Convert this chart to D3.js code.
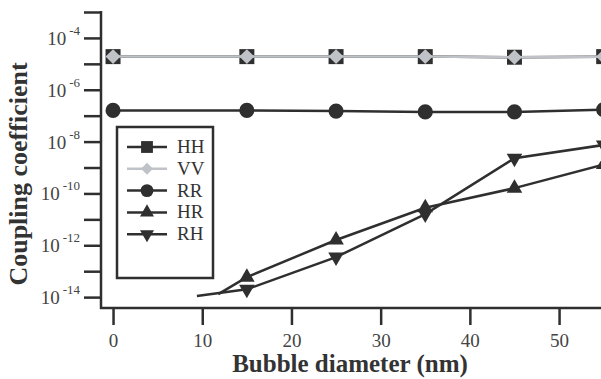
<!DOCTYPE html>
<html>
<head>
<meta charset="utf-8">
<script src="https://cdn.jsdelivr.net/npm/d3@7"></script>
<style>
  body { margin: 0; background: #fff; }
  svg { display: block; font-family: "Liberation Serif", "Times New Roman", serif; }
</style>
</head>
<body>
<svg id="chart" width="601" height="379"></svg>
<script>
// values
const diameters = [0, 15, 25, 35, 45, 55];
const hh = [1.9e-5, 1.9e-5, 1.9e-5, 1.9e-5, 1.8e-5, 1.9e-5];
const vv = [1.9e-5, 1.9e-5, 1.9e-5, 1.9e-5, 1.8e-5, 1.9e-5];
const rr = [1.6e-7, 1.6e-7, 1.5e-7, 1.4e-7, 1.4e-7, 1.7e-7];
const hrX = [11.8, 15, 25, 35, 45, 55];
const hr = [1.3e-14, 5.9e-14, 1.6e-12, 2.8e-11, 1.6e-10, 1.3e-9];
const rhX = [9.4, 15, 25, 35, 45, 55];
const rh = [1.1e-14, 2.0e-14, 3.5e-13, 1.6e-11, 2.3e-9, 7.4e-9];
const xTicks = [0, 10, 20, 30, 40, 50];
const yExponents = [-3, -4, -5, -6, -7, -8, -9, -10, -11, -12, -13, -14];
const legendNames = ["HH", "VV", "RR", "HR", "RH"];

const dark = "#2f2f2f";
const grey = "#bfc3c7";

const svg = d3.select("#chart");

const x = d3.scaleLinear().domain([-1.35, 54.7]).range([101, 601]);
const y = d3.scaleLog().domain([Math.pow(10, -14.42), 1e-3]).range([308, 12]);

// y axis
const yAxis = d3.axisLeft(y)
  .tickValues(yExponents.map(e => Math.pow(10, e)))
  .tickSize(17)
  .tickSizeOuter(0)
  .tickFormat("");
const gy = svg.append("g").attr("transform", "translate(101,0)").call(yAxis);
gy.select(".domain").attr("stroke", dark).attr("stroke-width", 2.5).attr("d", "M0,11V309");
gy.selectAll(".tick line").attr("stroke", dark).attr("stroke-width", 2.5);

yExponents.filter(e => e % 2 === 0).forEach(e => {
  const t = svg.append("text")
    .attr("x", 80).attr("y", y(Math.pow(10, e)) + 7)
    .attr("text-anchor", "end")
    .attr("fill", "#444");
  t.append("tspan").attr("font-size", 19).text("10");
  t.append("tspan").attr("font-size", 13).attr("dx", 3).attr("dy", -10).text(String(e));
});

// x axis
const xAxis = d3.axisBottom(x)
  .tickValues(xTicks)
  .tickSize(17)
  .tickSizeOuter(0)
  .tickPadding(5);
const gx = svg.append("g").attr("transform", "translate(0,308)").call(xAxis);
gx.select(".domain").attr("stroke", dark).attr("stroke-width", 2.5).attr("d", "M100,0H601");
gx.selectAll(".tick line").attr("stroke", dark).attr("stroke-width", 2.5);
gx.selectAll(".tick text")
  .attr("font-family", "Liberation Serif, serif")
  .attr("font-size", 19)
  .attr("fill", "#444")
  .attr("dy", null)
  .attr("y", 39);

// titles
svg.append("text")
  .attr("x", 350).attr("y", 372)
  .attr("text-anchor", "middle")
  .attr("font-weight", "bold").attr("font-size", 25)
  .attr("fill", "#333")
  .text("Bubble diameter (nm)");

svg.append("text")
  .attr("transform", "translate(27,174) rotate(-90)")
  .attr("text-anchor", "middle")
  .attr("font-weight", "bold").attr("font-size", 26)
  .attr("fill", "#333")
  .text("Coupling coefficient");

// series
const line = d3.line().x(d => x(d[0])).y(d => y(d[1]));
const zip = (xs, ys) => xs.map((v, i) => [v, ys[i]]);

const series = [
  { name: "RR", pts: zip(diameters, rr), color: dark, sym: d3.symbolCircle, size: 180, rot: 0, skip: 0 },
  { name: "HR", pts: zip(hrX, hr), color: dark, sym: d3.symbolTriangle, size: 105, rot: 0, skip: 1 },
  { name: "RH", pts: zip(rhX, rh), color: dark, sym: d3.symbolTriangle, size: 105, rot: 180, skip: 1 },
  { name: "HH", pts: zip(diameters, hh), color: dark, sym: d3.symbolSquare, size: 225, rot: 0, skip: 0 },
  { name: "VV", pts: zip(diameters, vv), color: grey, sym: d3.symbolSquare, size: 112, rot: 45, skip: 0 }
];

series.forEach(s => {
  svg.append("path")
    .attr("d", line(s.pts))
    .attr("fill", "none")
    .attr("stroke", s.color)
    .attr("stroke-width", 2.5);
  svg.selectAll(null).data(s.pts.slice(s.skip)).enter()
    .append("path")
    .attr("d", d3.symbol().type(s.sym).size(s.size))
    .attr("transform", d => `translate(${x(d[0])},${y(d[1])}) rotate(${s.rot})`)
    .attr("fill", s.color);
});

// legend
const legend = svg.append("g");
legend.append("rect")
  .attr("x", 117).attr("y", 127).attr("width", 96).attr("height", 151)
  .attr("fill", "#fff").attr("stroke", dark).attr("stroke-width", 2.5);

const legendStyle = {
  HH: { color: dark, sym: d3.symbolSquare, size: 140, rot: 0 },
  VV: { color: grey, sym: d3.symbolSquare, size: 72, rot: 45 },
  RR: { color: dark, sym: d3.symbolCircle, size: 130, rot: 0 },
  HR: { color: dark, sym: d3.symbolTriangle, size: 85, rot: 0 },
  RH: { color: dark, sym: d3.symbolTriangle, size: 85, rot: 180 }
};

legendNames.forEach((n, i) => {
  const st = legendStyle[n];
  const cy = 147 + i * 21.8;
  legend.append("line")
    .attr("x1", 127).attr("x2", 167).attr("y1", cy).attr("y2", cy)
    .attr("stroke", st.color).attr("stroke-width", 2.5);
  legend.append("path")
    .attr("d", d3.symbol().type(st.sym).size(st.size))
    .attr("transform", `translate(147,${cy}) rotate(${st.rot})`)
    .attr("fill", st.color);
  legend.append("text")
    .attr("x", 177).attr("y", cy + 6)
    .attr("font-size", 19).attr("fill", "#333")
    .text(n);
});
</script>
</body>
</html>
